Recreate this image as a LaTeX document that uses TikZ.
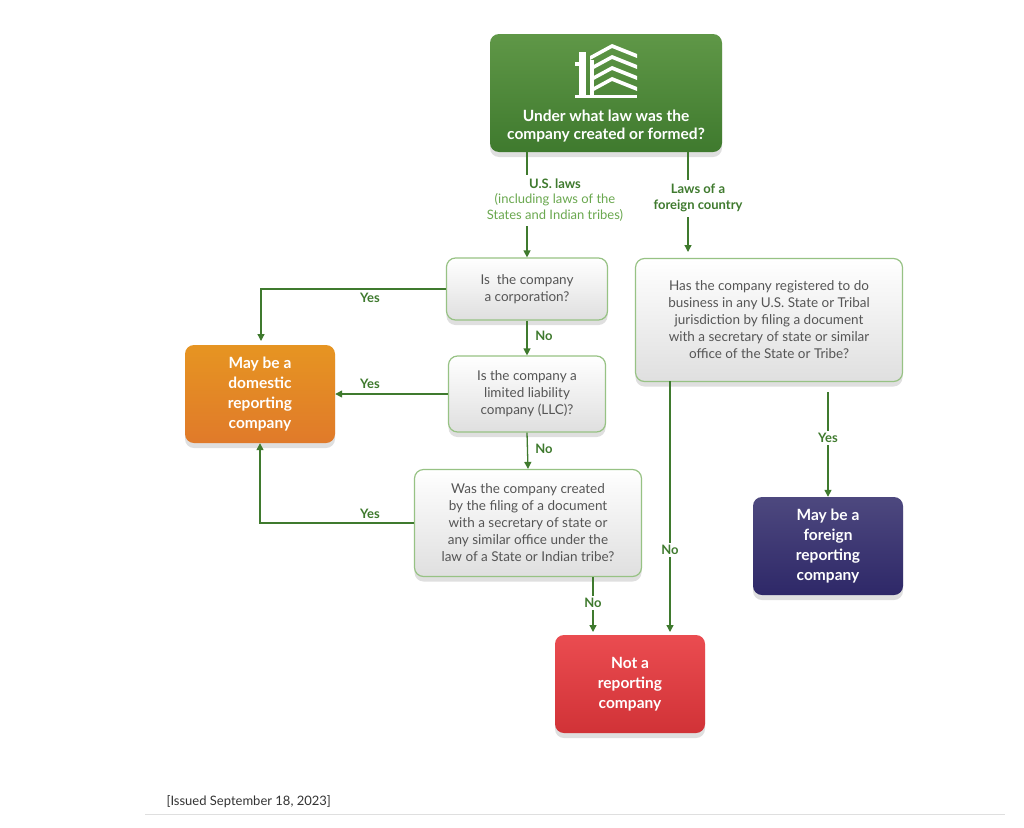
\documentclass[tikz,border=0pt]{standalone}
\usepackage{fontspec}
\setmainfont{Lato}
\usetikzlibrary{arrows.meta,shadows}
\definecolor{gr}{HTML}{3F7A2E}
\definecolor{lgr}{HTML}{6AA84F}
\definecolor{txtg}{HTML}{555555}
\definecolor{org}{HTML}{E07A2A}
\definecolor{pur}{HTML}{2E2868}
\definecolor{rd}{HTML}{E8383D}
\begin{document}
\begin{tikzpicture}[x=1pt,y=-1pt,
  box/.style={rounded corners=9pt,align=center,inner sep=0pt,drop shadow={shadow xshift=0pt,shadow yshift=-5pt,opacity=0.25}},
  q/.style={box,top color=white,bottom color=gray!25,draw=lgr!70,line width=1.2pt,text=txtg,font=\fontsize{13.5}{17}\selectfont},
  res/.style={box,text=white,font=\bfseries\fontsize{15.5}{20}\selectfont,minimum width=150pt,minimum height=98pt},
  arr/.style={draw=gr,line width=1.3pt,-{Triangle[length=7pt,width=7pt]}},
  ln/.style={draw=gr,line width=1.3pt},
  lab/.style={text=gr,font=\bfseries\fontsize{13}{16.5}\selectfont,align=center}]
\useasboundingbox[fill=white] (0,0) rectangle (1024,827);
\node[box,top color=lgr!90!black,bottom color=gr,minimum width=232pt,minimum height=118pt] (top) at (606,93) {};
\node[text=white,font=\bfseries\fontsize{15.5}{18}\selectfont,align=center] (toptxt) at (606,126) {Under what law was the\\company created or formed?};
% building icon
\fill[white] (579,52) rectangle (586,95);
\fill[white] (575,62) rectangle (582,66);
\foreach \y in {50,61,72,83}{\fill[white] (590,\y+6) -- (612,\y-6) -- (637,\y+4) -- (637,\y+8) -- (612,\y-2) -- (590,\y+10) -- cycle;}
\fill[white] (590,60) rectangle (594,95);
\fill[white] (575,95) rectangle (637,98);
\node[lab] (us) at (555,200) {U.S. laws\\[-1pt]{\mdseries\color{lgr}(including laws of the}\\[-1pt]{\mdseries\color{lgr}States and Indian tribes)}};
\node[lab] (fl) at (698,198) {Laws of a\\foreign country};
\node[q,minimum width=161pt,minimum height=62pt] (q1) at (527,289) {Is\ \ the company\\a corporation?};
\node[q,minimum width=157pt,minimum height=76pt] (q2) at (527,394) {Is the company a\\limited liability\\company (LLC)?};
\node[q,minimum width=227pt,minimum height=107pt] (q3) at (528,523) {Was the company created\\by the filing of a document\\with a secretary of state or\\any similar office under the\\law of a State or Indian tribe?};
\node[q,minimum width=267pt,minimum height=123pt] (qf) at (769,320) {Has the company registered to do\\business in any U.S. State or Tribal\\jurisdiction by filing a document\\with a secretary of state or similar\\office of the State or Tribe?};
\node[res,top color=org!80!yellow,bottom color=org] (dom) at (260,394) {May be a\\domestic\\reporting\\company};
\node[res,top color=pur!85!white,bottom color=pur] (for) at (828,546) {May be a\\foreign\\reporting\\company};
\node[res,top color=rd!90!white,bottom color=rd!90!black] (not) at (630,684) {Not a\\reporting\\company};
\coordinate (t1) at (527,152); \coordinate (t2) at (688,152);
\draw[ln] (t1) -- (527,175); \draw[arr] (527,226) -- (q1.north);
\draw[ln] (t2) -- (688,180); \draw[arr] (688,217) -- (688,252);
\draw[arr] (q1.west) -| (261,341);
\draw[arr] (q2.west) -- (dom.east);
\draw[arr] (q3.west) -| (dom.south);
\draw[arr] (q1.south) -- (q2.north);
\draw[arr] (q2.south) -- (q3.north);
\draw[arr] (593,577) -- (593,632);
\draw[arr] (670,381) -- (670,632);
\draw[arr] (828,392) -- (for.north);
\node[lab] at (370,298) {Yes};
\node[lab] at (370,384) {Yes};
\node[lab] at (370,514) {Yes};
\node[lab] at (544,336) {No};
\node[lab] at (544,449) {No};
\node[lab,fill=white,inner sep=2pt] at (593,603) {No};
\node[lab,fill=white,inner sep=2pt] at (670,550) {No};
\node[lab,fill=white,inner sep=2pt] at (828,438) {Yes};
\node[anchor=west,text=black!80,font=\fontsize{13}{14}\selectfont] (iss) at (163,802) {[Issued September 18, 2023]};
\draw[gray!25,line width=1pt] (145,814) -- (1005,814);
\end{tikzpicture}
\end{document}
